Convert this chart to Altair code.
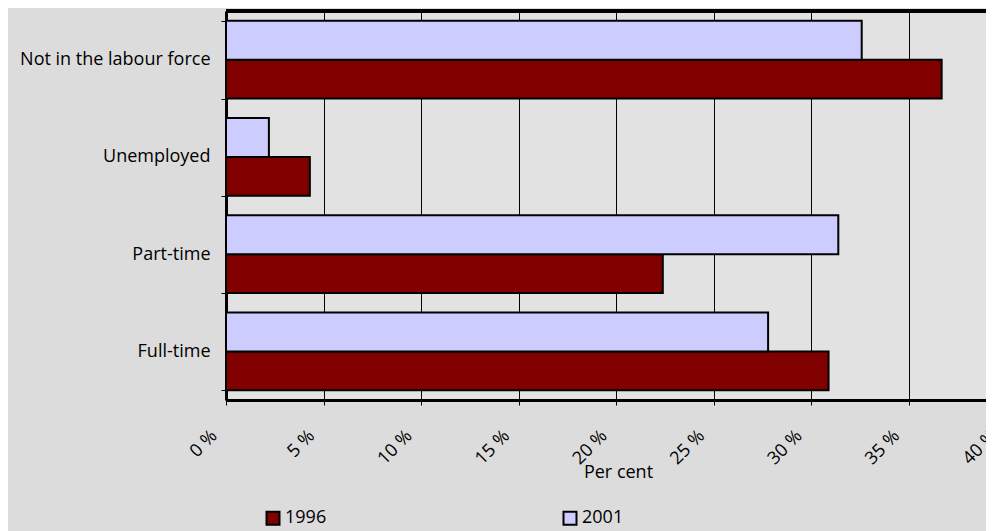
import altair as alt
import pandas as pd

categories = ["Not in the labour force", "Unemployed", "Part-time", "Full-time"]
years = ["1996", "2001"]
values_1996 = [36.7, 4.3, 22.4, 30.9]
values_2001 = [32.6, 2.2, 31.4, 27.8]
x_ticks = [0, 5, 10, 15, 20, 25, 30, 35, 40]

rows = []
for c, v in zip(categories, values_1996):
    rows.append({"category": c, "year": "1996", "value": v})
for c, v in zip(categories, values_2001):
    rows.append({"category": c, "year": "2001", "value": v})
df = pd.DataFrame(rows)

FONT = "Open Sans"
W = 760
H = 389
FULL = 780

bars = alt.Chart(df).mark_bar(stroke="black", strokeWidth=2).encode(
    x=alt.X("value:Q",
            scale=alt.Scale(domain=[0, 40], range=[0, FULL], nice=False, zero=True),
            axis=alt.Axis(values=x_ticks, title="Per cent", labelExpr="datum.value + ' %'",
                          labelAngle=315, labelAlign="right", labelBaseline="middle",
                          labelPadding=28, labelOffset=-12, tickSize=5, tickColor="black",
                          domainColor="black", domainWidth=3, gridColor="black",
                          gridWidth=1, grid=True, labelFlush=False, labelOverlap=False,
                          titlePadding=2, titleFontWeight="normal",
                          titleX=FULL / 2 + 2, titleY=63, titleBaseline="top")),
    y=alt.Y("category:N", sort=categories,
            scale=alt.Scale(paddingInner=0.2, paddingOuter=0.1),
            axis=alt.Axis(title=None, tickBand="extent", tickSize=5, tickColor="black",
                          domainColor="black", domainWidth=3, labelPadding=11,
                          labelLimit=400, grid=False)),
    yOffset=alt.YOffset("year:N", scale=alt.Scale(domain=["2001", "1996"])),
    color=alt.Color("year:N",
                    scale=alt.Scale(domain=years, range=["#800000", "#CCCCFF"]),
                    legend=alt.Legend(title=None, orient="none", legendX=38, legendY=498,
                                      direction="horizontal", symbolType="square",
                                      symbolSize=169, symbolStrokeColor="black",
                                      symbolStrokeWidth=2, columnPadding=232,
                                      labelOffset=3)),
)

top_border = alt.Chart(df).mark_rule(color="black", strokeWidth=3).encode(
    x=alt.value(0), x2=alt.value(W), y=alt.value(0)
)

chart = alt.layer(bars, top_border).properties(
    width=W, height=H,
    autosize=alt.AutoSizeParams(type="none"),
    padding={"left": 218, "top": 3, "right": 0, "bottom": 131},
    background="#dcdcdc",
).configure_view(
    strokeWidth=0, fill="#e2e2e2"
).configure_axis(
    labelFont=FONT, titleFont=FONT, labelFontSize=18, titleFontSize=18,
    labelColor="black", titleColor="black"
).configure_legend(
    labelFont=FONT, labelFontSize=18, labelColor="black"
)

chart.save("out.html", embed_options={"renderer": "svg", "actions": False})
